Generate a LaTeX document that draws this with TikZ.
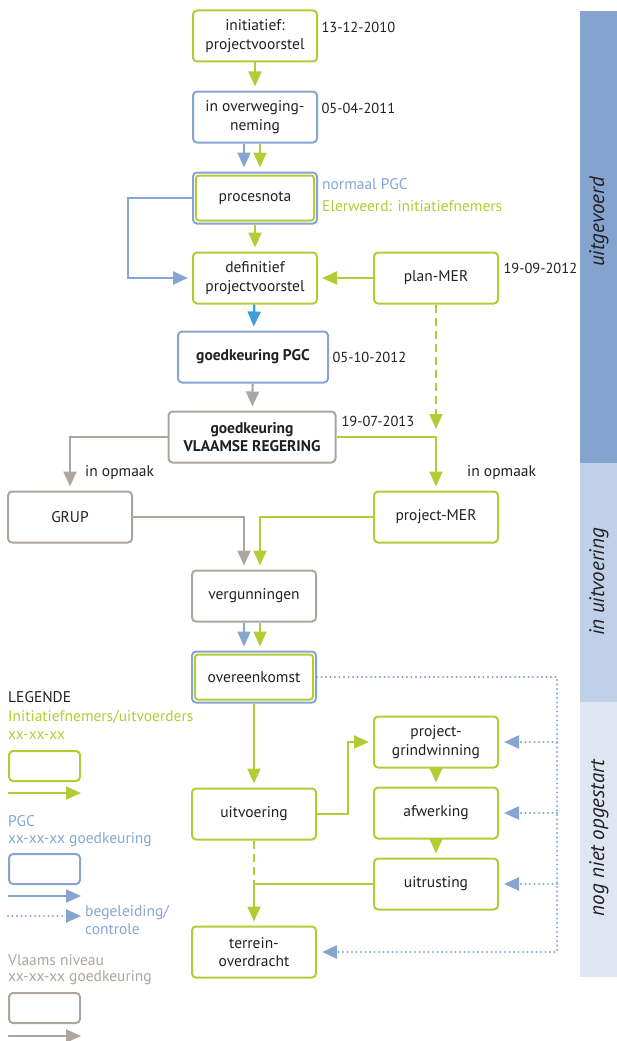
\documentclass[tikz,border=0pt]{standalone}
\usepackage{fontspec}
\setmainfont{PT Sans}
\usetikzlibrary{arrows.meta}
\definecolor{trekGreen}{HTML}{B5CB35}
\definecolor{pgcBlue}{HTML}{86A5D1}
\definecolor{vlaGray}{HTML}{ADA59F}
\definecolor{linkBlue}{HTML}{3C9FDA}
\definecolor{barDark}{HTML}{84A3CF}
\definecolor{barMid}{HTML}{BFD0E8}
\definecolor{barLight}{HTML}{DFE6F1}
\definecolor{inkText}{HTML}{231F20}

\begin{document}
\begin{tikzpicture}[x=1pt, y=-1pt, >={Triangle[length=15pt,width=13pt]},
      font=\fontsize{15.5}{18.5}\selectfont, text=inkText,
      stap/.style={draw, rounded corners=4pt, line width=2pt, minimum width=124pt, minimum height=51pt, align=center, inner sep=1pt},
      trek/.style={stap, draw=trekGreen},
      pgc/.style={stap, draw=pgcBlue},
      vla/.style={stap, draw=vlaGray},
      gpijl/.style={->, line width=2.2pt, trekGreen, shorten >=4pt},
      bpijl/.style={->, line width=2.2pt, pgcBlue, shorten >=4pt},
      vpijl/.style={->, line width=2.2pt, vlaGray, shorten >=4pt},
      streep/.style={dash pattern=on 8pt off 5pt},
      stippel/.style={->, line width=2.4pt, pgcBlue, dash pattern=on 0pt off 4.5pt, line cap=round, shorten >=5pt},
      datum/.style={anchor=west, font=\fontsize{14.5}{17}\selectfont},
      legtxt/.style={anchor=west, inner sep=0pt},
      fase/.style={rotate=90, font=\fontsize{21}{22}\selectfont\itshape}]
    \useasboundingbox (0,0) rectangle (617,1041);
    % ---- status bar
    \fill[barDark] (580,11) rectangle (617,463);
    \fill[barMid] (580,463) rectangle (617,702);
    \fill[barLight] (580,702) rectangle (617,977);
    \node[fase] (fase1) at (599,222) {uitgevoerd};
    \node[fase] (fase2) at (599,582) {in uitvoering};
    \node[fase] (fase3) at (599,838) {nog niet opgestart};
    % ---- procedure
    \node[trek] (init) at (255,36) {initiatief:\\projectvoorstel};
    \node[datum] (d1) at (318,27) {13-12-2010};
    \node[pgc] (overw) at (255,117) {in overweging-\\neming};
    \node[datum] (d2) at (318,108) {05-04-2011};
    \node[pgc] (proces) at (255,198) {procesnota};
    \draw[trekGreen, line width=2pt, rounded corners=3pt] ([shift={(4,4)}]proces.north west) rectangle ([shift={(-4,-4)}]proces.south east);
    \node[legtxt, pgcBlue] (nPgc) at (322,184) {normaal PGC};
    \node[legtxt, trekGreen] (nEler) at (322,206) {Elerweerd: initiatiefnemers};
    \node[trek] (defin) at (255,278) {definitief\\projectvoorstel};
    \node[trek] (planmer) at (436,278) {plan-MER};
    \node[datum] (d3) at (500,268) {19-09-2012};
    \node[pgc, minimum width=150pt, font=\fontsize{15.5}{18.5}\selectfont\bfseries] (gpgc) at (253,357) {goedkeuring PGC};
    \node[datum] (d4) at (329,357) {05-10-2012};
    \node[vla, minimum width=167pt, font=\fontsize{15.5}{18.5}\selectfont\bfseries] (vlaams) at (252,437) {goedkeuring\\VLAAMSE REGERING};
    \node[datum] (d5) at (338,421) {19-07-2013};
    \node[vla] (grup) at (70,517) {GRUP};
    \node[trek] (projmer) at (436,517) {project-MER};
    \node[legtxt] (opm1) at (85,473) {in opmaak};
    \node[legtxt] (opm2) at (467,473) {in opmaak};
    \node[vla] (verg) at (254,596) {vergunningen};
    \node[pgc] (overeen) at (254,677) {overeenkomst};
    \draw[trekGreen, line width=2pt, rounded corners=3pt] ([shift={(4,4)}]overeen.north west) rectangle ([shift={(-4,-4)}]overeen.south east);
    \node[trek] (uitv) at (254,814) {uitvoering};
    \node[trek] (grind) at (436,742) {project-\\grindwinning};
    \node[trek] (afwerk) at (436,813) {afwerking};
    \node[trek] (uitrust) at (436,884) {uitrusting};
    \node[trek] (terrein) at (254,952) {terrein-\\overdracht};
    \coordinate (merknik) at (436,437);
    \coordinate (ctrl) at (557,0);
    % ---- connectors
    \draw[gpijl] (init) -- (overw);
    \draw[bpijl] ([xshift=-11pt]overw.south) -- ([xshift=-11pt]proces.north);
    \draw[gpijl] ([xshift=5pt]overw.south) -- ([xshift=5pt]proces.north);
    \draw[gpijl] (proces) -- (defin);
    \draw[bpijl] (proces.west) -- ++(-64,0) |- (defin.west);
    \draw[gpijl] (planmer) -- (defin);
    \draw[->, line width=2.2pt, linkBlue, shorten >=4pt] (defin) -- (gpgc);
    \draw[vpijl] (gpgc) -- (vlaams);
    \draw[gpijl, streep, shorten >=8pt] (planmer.south) -- (merknik);
    \draw[gpijl] (vlaams.east) -| (projmer.north);
    \draw[vpijl] (vlaams.west) -| (grup.north);
    \draw[vpijl] (grup.east) -| ([xshift=-10pt]verg.north);
    \draw[gpijl] (projmer.west) -| ([xshift=6pt]verg.north);
    \draw[bpijl] ([xshift=-10pt]verg.south) -- ([xshift=-10pt]overeen.north);
    \draw[gpijl] ([xshift=6pt]verg.south) -- ([xshift=6pt]overeen.north);
    \draw[gpijl] (overeen) -- (uitv);
    \draw[gpijl] (uitv.east) -- ++(31,0) |- (grind.west);
    \draw[gpijl] (grind) -- (afwerk);
    \draw[gpijl] (afwerk) -- (uitrust);
    \draw[trekGreen, line width=2.2pt, streep] (uitv.south) -- (uitv.south |- uitrust.west);
    \draw[gpijl] (uitrust.west) -| (terrein.north);
    \draw[stippel] (overeen.east) -| (ctrl |- terrein.east) -- (terrein.east);
    \foreach \n in {grind,afwerk,uitrust}
      \draw[stippel] (ctrl |- \n.east) -- (\n.east);
    % ---- legend
    \node[legtxt] (lgKop) at (8,697) {LEGENDE};
    \node[legtxt, trekGreen] (lgT1) at (8,717) {Initiatiefnemers/uitvoerders};
    \node[legtxt, trekGreen] (lgT2) at (8,736) {xx-xx-xx};
    \node[trek, minimum width=71pt, minimum height=30pt, anchor=north west] (lgTrek) at (8,750) {};
    \draw[gpijl, shorten >=0pt] ([yshift=-11pt]lgTrek.south west) -- ([yshift=-11pt]lgTrek.south east);
    \node[legtxt, pgcBlue] (lgP1) at (8,821) {PGC};
    \node[legtxt, pgcBlue] (lgP2) at (8,840) {xx-xx-xx goedkeuring};
    \node[pgc, minimum width=71pt, minimum height=30pt, anchor=north west] (lgPgc) at (8,853) {};
    \draw[bpijl, shorten >=0pt] ([yshift=-11pt]lgPgc.south west) -- ([yshift=-11pt]lgPgc.south east);
    \draw[stippel, shorten >=0pt] ([yshift=-31pt]lgPgc.south west) -- ([yshift=-31pt]lgPgc.south east);
    \node[legtxt, pgcBlue, align=left, anchor=north west] (lgBeg) at (85,905) {begeleiding/\\controle};
    \node[legtxt, vlaGray] (lgV1) at (8,960) {Vlaams niveau};
    \node[legtxt, vlaGray] (lgV2) at (8,978) {xx-xx-xx goedkeuring};
    \node[vla, minimum width=71pt, minimum height=30pt, anchor=north west] (lgVla) at (8,992) {};
    \draw[vpijl, shorten >=0pt] ([yshift=-12pt]lgVla.south west) -- ([yshift=-12pt]lgVla.south east);
  \end{tikzpicture}
\end{document}
